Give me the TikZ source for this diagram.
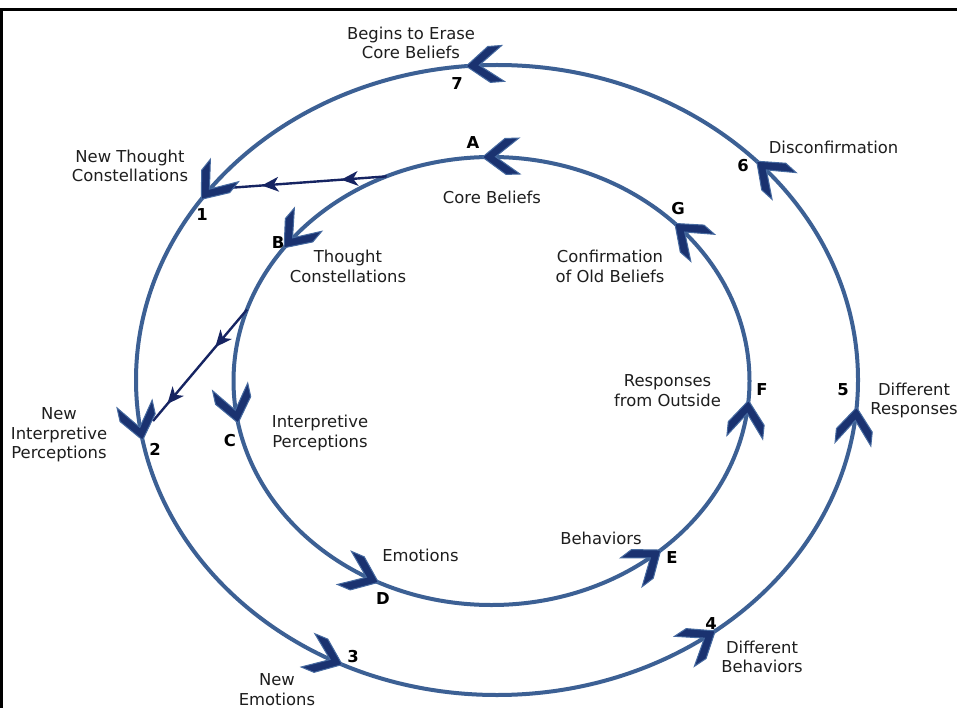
\documentclass[tikz,border=0pt]{standalone}
\usepackage{fontspec}
\setmainfont{DejaVu Sans}
\usetikzlibrary{calc}
\definecolor{ring}{RGB}{60,96,148}
\definecolor{chevcore}{RGB}{26,50,112}
\definecolor{chevrim}{RGB}{70,106,160}
\definecolor{link}{RGB}{22,36,98}
\definecolor{ink}{RGB}{30,30,30}

\begin{document}
\begin{tikzpicture}[x=1pt,y=-1pt,
  ringline/.style={draw=ring,line width=4pt},
  txtlbl/.style={font=\fontsize{16.4}{19.5}\selectfont, text=ink, align=center, inner sep=0pt},
  marklbl/.style={font=\fontsize{16.4}{19.5}\selectfont\bfseries, text=black, inner sep=0pt},
  chev/.pic={\filldraw[fill=chevcore,draw=chevrim,line width=1pt,line join=miter]
      (0,0) -- (-23,18) -- (-37,18) -- (-13,0) -- (-37,-18) -- (-23,-18) -- cycle;},
  linkhead/.pic={\fill[link] (4,0) -- (-13,7.5) -- (-8,0) -- (-13,-7.5) -- cycle;},
  linkline/.style={draw=link,line width=2.4pt},
]
\useasboundingbox (0,0) rectangle (957,708);
\fill[white] (0,0) rectangle (957,708);

% frame
\draw[line width=2.7pt] (0,9.7) -- (957,9.7);
\draw[line width=2.7pt] (1.35,9.7) -- (1.35,708);

% the two cycles
\draw[ringline] (497,380) ellipse [x radius=361pt, y radius=315pt];
\draw[ringline] (491.5,381) ellipse [x radius=258pt, y radius=224pt];

% links from the old cycle to the new one
\coordinate (inA) at ({491.5+258*cos(114)},{381-224*sin(114)});
\coordinate (outA) at (214,189);
\coordinate (inB) at ({491.5+258*cos(161.4)},{381-224*sin(161.4)});
\coordinate (outB) at (153,421);
\draw[linkline] (inA) -- (outA);
\draw[linkline] (inB) -- (outB);
\path ($(inA)!0.24!(outA)$) pic[rotate=184.2] {linkhead};
\path ($(inA)!0.70!(outA)$) pic[rotate=184.2] {linkhead};
\path ($(inB)!0.31!(outB)$) pic[rotate=-130.2] {linkhead};
\path ($(inB)!0.82!(outB)$) pic[rotate=-130.2] {linkhead};

% chevrons on the outer cycle
\foreach \t in {94.9,145,191,244.6,307.2,355,44} {
  \pgfmathsetmacro\ang{atan2(315*cos(\t),-361*sin(\t))}
  \path ({497+361*cos(\t)},{380-315*sin(\t)}) pic[rotate=\ang] {chev};
}
% chevrons on the inner cycle
\foreach \t in {92,143.5,190.8,244,311,355,44.7} {
  \pgfmathsetmacro\ang{atan2(224*cos(\t),-258*sin(\t))}
  \path ({491.5+258*cos(\t)},{381-224*sin(\t)}) pic[rotate=\ang] {chev};
}

% outer cycle captions
\node[txtlbl] (t7) at (411,43) {Begins to Erase\\Core Beliefs};
\node[txtlbl] (t1) at (130,166) {New Thought\\Constellations};
\node[txtlbl] (t2) at (59,435) {New\\Interpretive\\Perceptions};
\node[txtlbl] (t3) at (277,689.5) {New\\Emotions};
\node[txtlbl] (t4) at (762,657) {Different\\Behaviors};
\node[txtlbl] (t5) at (914,400.5) {Different\\Responses};
\node[txtlbl] (t6) at (833.5,147) {Disconfirmation};

% inner cycle captions
\node[txtlbl] (tA) at (492,197.5) {Core Beliefs};
\node[txtlbl] (tB) at (348,266.5) {Thought\\Constellations};
\node[txtlbl] (tC) at (320,433) {Interpretive\\Perceptions};
\node[txtlbl] (tD) at (420.5,555) {Emotions};
\node[txtlbl] (tE) at (601,538.5) {Behaviors};
\node[txtlbl] (tF) at (667.5,390.5) {Responses\\from Outside};
\node[txtlbl] (tG) at (610,266.5) {Confirmation\\of Old Beliefs};

% step numbers and letters
\node[marklbl] (n7) at (457,83.5) {7};
\node[marklbl] (n1) at (202,215) {1};
\node[marklbl] (n2) at (155,449) {2};
\node[marklbl] (n3) at (353,657) {3};
\node[marklbl] (n4) at (711,624) {4};
\node[marklbl] (n5) at (843,390) {5};
\node[marklbl] (n6) at (743,166) {6};
\node[marklbl] (nA) at (473,142.5) {A};
\node[marklbl] (nB) at (278,243) {B};
\node[marklbl] (nC) at (230,441) {C};
\node[marklbl] (nD) at (383,598.5) {D};
\node[marklbl] (nE) at (672,557.5) {E};
\node[marklbl] (nF) at (762,389.5) {F};
\node[marklbl] (nG) at (678,209) {G};
\end{tikzpicture}
\end{document}
